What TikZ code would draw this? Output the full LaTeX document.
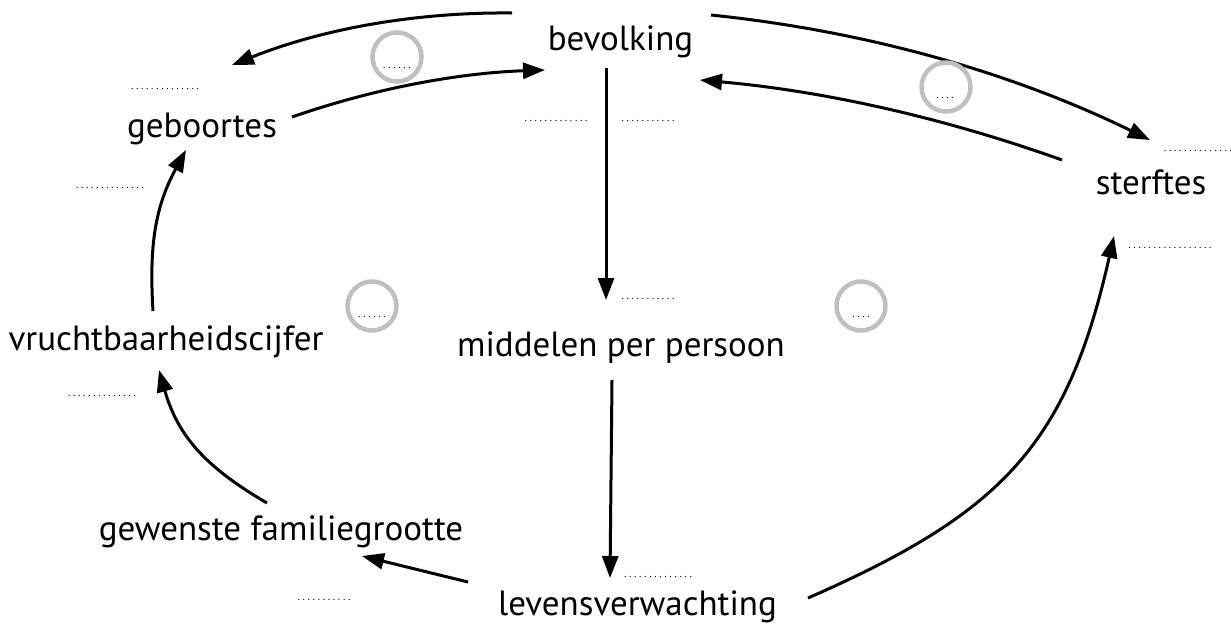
\documentclass[tikz,border=0pt]{standalone}
\usepackage{fontspec}
\setmainfont{PT Sans}
\newfontfamily\dotfont[LetterSpace=18]{PT Sans}
\usetikzlibrary{arrows.meta}
\definecolor{ringgray}{RGB}{192,192,192}
\tikzset{
  lbl/.style={anchor=base, inner sep=0pt, font=\fontsize{35}{40}\selectfont},
  dotlbl/.style={anchor=base, inner sep=0pt, font=\dotfont\fontsize{11}{11}\selectfont},
  ring/.style={draw=ringgray, line width=4.5pt},
  conn/.style={line width=3pt, -{Triangle[length=22pt,width=16pt]}},
}
\begin{document}
\begin{tikzpicture}[x=1pt,y=-1pt]
\useasboundingbox (0,0) rectangle (1231,633);
% nodes
\node[lbl] (bev) at (620.5,50) {bevolking};
\node[lbl] (geb) at (202,137) {geboortes};
\node[lbl] (ste) at (1151,194) {sterftes};
\node[lbl] (vru) at (166,350) {vruchtbaarheidscijfer};
\node[lbl] (mid) at (621,356) {middelen per persoon};
\node[lbl] (gew) at (281,540) {gewenste familiegrootte};
\node[lbl] (lev) at (637.5,615) {levensverwachting};
% connector end points
\coordinate (a1s) at (512,13);  \coordinate (a1e) at (232,65);
\coordinate (a2s) at (292,117); \coordinate (a2e) at (545,70);
\coordinate (a3s) at (711,15);  \coordinate (a3e) at (1150,140);
\coordinate (a4s) at (1062,160);\coordinate (a4e) at (700,80);
\coordinate (a5s) at (606,68);  \coordinate (a5e) at (606,300);
\coordinate (a6s) at (612,380); \coordinate (a6e) at (610,578);
\coordinate (a7s) at (808,598); \coordinate (a7e) at (1114,236);
\coordinate (a8s) at (468,582); \coordinate (a8e) at (362,556);
\coordinate (a9s) at (267,503); \coordinate (a9e) at (159,370);
\coordinate (a10s) at (153,311);\coordinate (a10e) at (186,150);
% connectors
\draw[conn] (a1s) .. controls (415,12) and (322,29) .. (a1e);
\draw[conn] (a2s) .. controls (374,88.5) and (458,73) .. (a2e);
\draw[conn] (a3s) .. controls (865,31) and (1011,72) .. (a3e);
\draw[conn] (a4s) .. controls (945,118) and (824,91) .. (a4e);
\draw[conn] (a5s) -- (a5e);
\draw[conn] (a6s) -- (a6e);
\draw[conn] (a7s) .. controls (1002,513) and (1067,445) .. (a7e);
\draw[conn] (a8s) -- (a8e);
\draw[conn] (a9s) .. controls (207,468) and (178,437) .. (a9e);
\draw[conn] (a10s) .. controls (149,246) and (155,207) .. (a10e);
% loop rings
\node[ring, circle, minimum size=49pt, inner sep=0pt] (r1) at (397,57) {};
\node[ring, circle, minimum size=49pt, inner sep=0pt] (r2) at (946,87) {};
\node[ring, circle, minimum size=49pt, inner sep=0pt] (r3) at (372,306) {};
\node[ring, circle, minimum size=49pt, inner sep=0pt] (r4) at (861,306) {};
\node[dotlbl] (r1t) at (397,68) {......};
\node[dotlbl] (r2t) at (945,98) {....};
\node[dotlbl] (r3t) at (372,317) {......};
\node[dotlbl] (r4t) at (861,317) {....};
% dotted labels
\node[dotlbl] (d1) at (165,89) {..............};
\node[dotlbl] (d2) at (110,188) {..............};
\node[dotlbl] (d3) at (556,121) {.............};
\node[dotlbl] (d4) at (648,121) {...........};
\node[dotlbl] (d5) at (1198,151) {..............};
\node[dotlbl] (d6) at (1170,248) {.................};
\node[dotlbl] (d7) at (648,299) {...........};
\node[dotlbl] (d8) at (102,396) {..............};
\node[dotlbl] (d9) at (324,600) {...........};
\node[dotlbl] (d10) at (658,577) {..............};
\end{tikzpicture}
\end{document}
